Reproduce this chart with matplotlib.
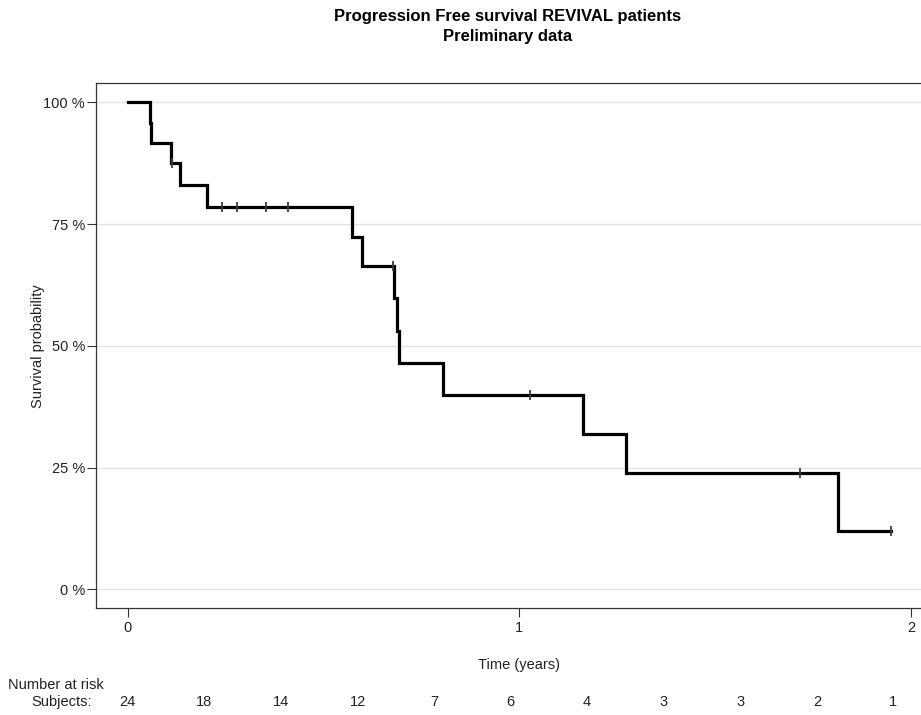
import numpy as np
import matplotlib
matplotlib.use("Agg")
import matplotlib.pyplot as plt
from matplotlib.transforms import blended_transform_factory

plt.rcParams["font.family"] = ["Liberation Sans", "DejaVu Sans"]

# Kaplan-Meier step function (time in years, survival in %)
step_times = [0.0, 0.057, 0.059, 0.111, 0.134, 0.202, 0.574, 0.599,
              0.681, 0.687, 0.693, 0.804, 1.163, 1.273, 1.813]
step_surv = [100.0, 95.8, 91.7, 87.5, 83.1, 78.4, 72.4, 66.4,
             59.8, 53.1, 46.5, 39.8, 31.9, 23.9, 12.0]
last_followup = 1.949

# Censored observations
censor_times = [0.112, 0.240, 0.278, 0.353, 0.410, 0.678, 1.028, 1.717, 1.949]

# Number-at-risk table
risk_times = [0.0, 0.196, 0.391, 0.587, 0.782, 0.978, 1.173, 1.369, 1.564, 1.760, 1.955]
risk_counts = [24, 18, 14, 12, 7, 6, 4, 3, 3, 2, 1]

y_ticks = [0, 25, 50, 75, 100]
y_tick_labels = ["0 %", "25 %", "50 %", "75 %", "100 %"]
x_ticks = [0, 1, 2]

W, H = 921, 715
fig = plt.figure(figsize=(W / 100, H / 100), dpi=100)
ax = fig.add_axes([96 / W, 1 - 608 / H, 1 - 96 / W, (608 - 83) / H])

x_line = list(step_times) + [last_followup]
y_line = list(step_surv) + [step_surv[-1]]
ax.plot(x_line, y_line, drawstyle="steps-post", color="black", lw=2.3,
        solid_joinstyle="miter", zorder=3)

idx = np.searchsorted(step_times, censor_times, side="right") - 1
censor_levels = np.asarray(step_surv)[idx]
ax.plot(censor_times, censor_levels, linestyle="none", marker="|",
        markersize=7, markeredgewidth=1.3, color="#33404f", zorder=4)

ax.set_xlim(-0.081, 2.026)
ax.set_ylim(-3.84, 103.96)

ax.set_yticks(y_ticks)
ax.set_yticklabels(y_tick_labels)
ax.set_xticks(x_ticks)
ax.set_xticklabels([str(t) for t in x_ticks])

ax.yaxis.grid(True, color="#e3e3e3", lw=1.0)
ax.xaxis.grid(False)
ax.set_axisbelow(True)

for side in ("left", "bottom", "top"):
    ax.spines[side].set_color("#333333")
    ax.spines[side].set_linewidth(0.9)
ax.spines["right"].set_visible(False)

ax.tick_params(axis="both", direction="out", length=6.5, width=0.8,
               color="#333333", labelsize=10.5, labelcolor="#222222")
ax.tick_params(axis="x", pad=3)
ax.tick_params(axis="y", pad=1.5)

fig.text(508 / W, 1 - 17 / H, "Progression Free survival REVIVAL patients",
         ha="center", va="center", fontsize=12, fontweight="bold")
fig.text(508 / W, 1 - 37 / H, "Preliminary data",
         ha="center", va="center", fontsize=12, fontweight="bold")

fig.text(38 / W, 1 - 346 / H, "Survival probability", rotation=90,
         ha="center", va="center", fontsize=10.5, color="#222222")

trans = blended_transform_factory(ax.transData, fig.transFigure)
ax.text(1.0, 1 - 665 / H, "Time (years)", transform=trans,
        ha="center", va="center", fontsize=10.5, color="#222222")

fig.text(8 / W, 1 - 685 / H, "Number at risk", ha="left", va="center",
         fontsize=10.5, color="#222222")
fig.text(92 / W, 1 - 702 / H, "Subjects:", ha="right", va="center",
         fontsize=10.5, color="#222222")
for t, n in zip(risk_times, risk_counts):
    ax.text(t, 1 - 702 / H, str(n), transform=trans, ha="center",
            va="center", fontsize=10.5, color="#222222", clip_on=False)

fig.savefig("out.png", dpi=100, facecolor="white")
